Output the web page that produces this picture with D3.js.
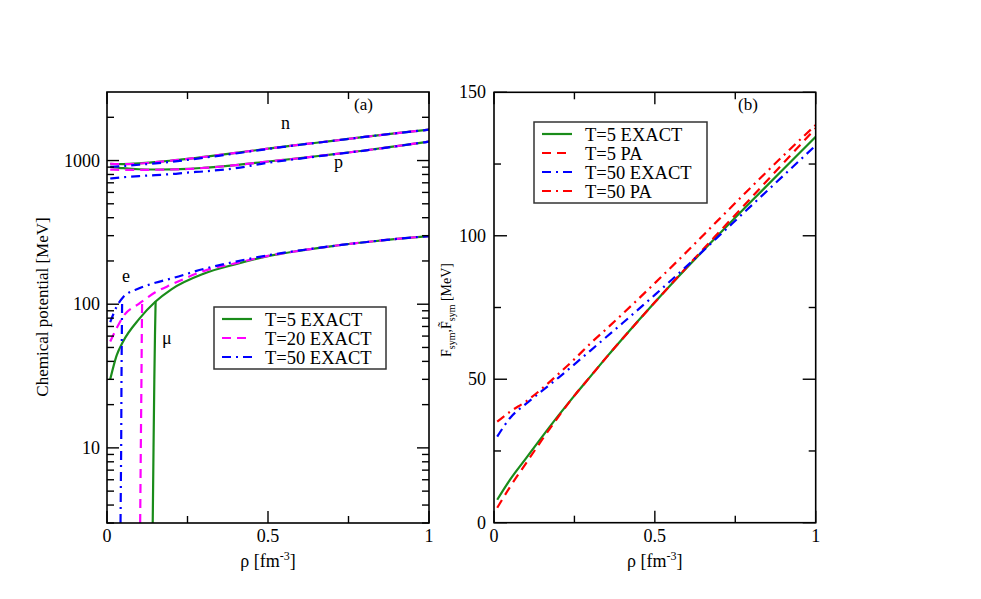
<!DOCTYPE html>
<html>
<head>
<meta charset="utf-8">
<script src="https://cdn.jsdelivr.net/npm/d3@7"></script>
<style>
  body { margin: 0; background: #fff; }
  text { font-family: "Liberation Serif", "Times New Roman", Times, "DejaVu Serif", serif; }
</style>
</head>
<body>
<svg id="chart" width="981" height="599" font-family="Liberation Serif, Times New Roman, DejaVu Serif, serif"></svg>
<script>
// ---- panel (a): chemical potentials, log scale ----
const rhoA = [0.01, 0.05, 0.1, 0.15, 0.2, 0.25, 0.3, 0.4, 0.5, 0.6, 0.7, 0.8, 0.9, 1.0];
const nT5  = [950, 945, 955, 975, 1000, 1027, 1060, 1130, 1210, 1290, 1370, 1460, 1550, 1640];
const nT20 = [950, 943, 953, 974, 999, 1026, 1059, 1130, 1210, 1290, 1370, 1460, 1550, 1640];
const nT50 = [905, 915, 935, 955, 980, 1010, 1045, 1120, 1205, 1288, 1370, 1460, 1550, 1640];
const pT5  = [905, 885, 870, 866, 868, 875, 890, 930, 985, 1040, 1105, 1175, 1260, 1355];
const pT20 = [865, 862, 862, 863, 866, 873, 888, 929, 985, 1040, 1105, 1175, 1260, 1355];
const pT50 = [750, 765, 780, 792, 805, 825, 840, 885, 965, 1032, 1102, 1173, 1258, 1355];

const rhoE = [0.01, 0.03, 0.05, 0.1, 0.15, 0.2, 0.3, 0.4, 0.5, 0.6, 0.7, 0.8, 0.9, 1.0];
const eT5  = [30, 44, 55, 79, 104, 127, 163, 190, 216, 236, 254, 270, 285, 298];
const eT20 = [55, 68, 82, 101, 121, 137, 170, 193, 217, 236, 254, 270, 285, 298];
const eT50 = [75, 96, 112, 129, 141, 151, 176, 198, 219, 237, 254, 270, 285, 298];

// muon branches (threshold onset)
const muRhoT5  = [0.142, 0.1445, 0.147, 0.149, 0.151];
const muT5     = [3, 10, 30, 60, 105];
const muRhoT20 = [0.103, 0.105, 0.107, 0.108, 0.109];
const muT20    = [3, 10, 30, 60, 102];
const muRhoT50 = [0.042, 0.044, 0.045, 0.046, 0.047];
const muT50    = [3, 10, 30, 60, 108];

const legendA = ["T=5 EXACT", "T=20 EXACT", "T=50 EXACT"];
const logTicks = [10, 100, 1000];

// ---- panel (b): symmetry free energy ----
const rhoB = [0.01, 0.05, 0.1, 0.15, 0.2, 0.25, 0.3, 0.35, 0.4, 0.5, 0.6, 0.7, 0.8, 0.9, 1.0];
const fT5exact  = [8, 15, 22.5, 30, 37.3, 44.3, 51, 57.7, 64.2, 76.8, 88.9, 100.6, 112, 123.3, 134.5];
const fT5pa     = [5.2, 12.5, 20.8, 29, 36.9, 44.3, 51, 57.7, 64.2, 76.8, 89.2, 101.3, 113.3, 125.4, 137.5];
const fT50exact = [30, 36.5, 41.5, 46, 50.5, 55.2, 60, 64.8, 69.6, 79.4, 89.5, 100, 110.5, 121, 131.5];
const fT50pa    = [35.2, 38.7, 42.3, 46.8, 51.8, 57, 62.5, 67.6, 72.8, 83.5, 94.5, 105.8, 117, 128, 138.6];
const legendB = ["T=5 EXACT", "T=5 PA", "T=50 EXACT", "T=50 PA"];
const linTicks = [0, 50, 100, 150];

const xTicks = [0, 0.5, 1];
const xMinor = [0.25, 0.75];

// line styles
const GREEN = "#1a8c1a", MAGENTA = "#ff00ff", BLUE = "#0000ff", RED = "#ff0000";
const SOLID = null, DASH = "9,6", DASHDOT = "9,5,2,5";

const svg = d3.select("#chart");
svg.append("rect").attr("width", 981).attr("height", 599).attr("fill", "#fff");

function zip(xs, ys) { return xs.map((x, i) => [x, ys[i]]); }

function drawFrame(g, x, y, w, h) {
    g.append("rect")
        .attr("x", x).attr("y", y).attr("width", w).attr("height", h)
        .attr("fill", "none").attr("stroke", "#000").attr("stroke-width", 1.6);
}

function tick(g, x1, y1, x2, y2) {
    g.append("line")
        .attr("x1", x1).attr("y1", y1).attr("x2", x2).attr("y2", y2)
        .attr("stroke", "#000").attr("stroke-width", 1.4);
}

function drawSeries(g, line, data, color, dash) {
    g.append("path")
        .datum(data)
        .attr("d", line)
        .attr("fill", "none")
        .attr("stroke", color)
        .attr("stroke-width", 2.2)
        .attr("stroke-dasharray", dash);
}

function drawXAxis(g, x, top, bottom) {
    xTicks.forEach(t => {
        tick(g, x(t), bottom, x(t), bottom - 12);
        tick(g, x(t), top, x(t), top + 12);
        g.append("text")
            .attr("x", x(t)).attr("y", bottom + 19)
            .attr("text-anchor", "middle").attr("font-size", 18)
            .text(t);
    });
    xMinor.forEach(t => {
        tick(g, x(t), bottom, x(t), bottom - 7);
        tick(g, x(t), top, x(t), top + 7);
    });
    const lab = g.append("text")
        .attr("x", (x(0) + x(1)) / 2).attr("y", bottom + 44)
        .attr("text-anchor", "middle").attr("font-size", 18);
    lab.append("tspan").text("ρ [fm");
    lab.append("tspan").attr("dy", -7).attr("font-size", 12).text("-3");
    lab.append("tspan").attr("dy", 7).text("]");
}

function drawLegend(g, x0, y0, w, h, labels, styles, rowH) {
    g.append("rect")
        .attr("x", x0).attr("y", y0).attr("width", w).attr("height", h)
        .attr("fill", "#fff").attr("stroke", "#333").attr("stroke-width", 1.5);
    labels.forEach((lab, i) => {
        const yy = y0 + 12 + i * rowH;
        g.append("line")
            .attr("x1", x0 + 8).attr("x2", x0 + 38).attr("y1", yy).attr("y2", yy)
            .attr("stroke", styles[i][0]).attr("stroke-width", 2.2)
            .attr("stroke-dasharray", styles[i][1]);
        g.append("text")
            .attr("x", x0 + 51).attr("y", yy + 6.5)
            .attr("font-size", 18.5)
            .text(lab);
    });
}

// ================= panel (a) =================
const xa = d3.scaleLinear().domain([0, 1]).range([107, 429]);
const ya = d3.scaleLog().domain([3, 3000]).range([523, 92]);
const gA = svg.append("g");

svg.append("clipPath").attr("id", "clipA")
    .append("rect").attr("x", 107).attr("y", 92).attr("width", 322).attr("height", 431);

const lineA = d3.line().x(d => xa(d[0])).y(d => ya(d[1])).curve(d3.curveMonotoneX);
const lineMu = d3.line().x(d => xa(d[0])).y(d => ya(d[1]));
const plotA = gA.append("g").attr("clip-path", "url(#clipA)");

const stylesA = [[GREEN, SOLID], [MAGENTA, DASH], [BLUE, DASHDOT]];
[[nT5, pT5, eT5, muRhoT5, muT5], [nT20, pT20, eT20, muRhoT20, muT20], [nT50, pT50, eT50, muRhoT50, muT50]]
    .forEach((s, i) => {
        const [c, d] = stylesA[i];
        drawSeries(plotA, lineA, zip(rhoA, s[0]), c, d);
        drawSeries(plotA, lineA, zip(rhoA, s[1]), c, d);
        drawSeries(plotA, lineA, zip(rhoE, s[2]), c, d);
        drawSeries(plotA, lineMu, zip(s[3], s[4]), c, d);
    });

drawFrame(gA, 107, 92, 322, 431);

// y ticks, log scale
const minorA = [];
[1, 10, 100, 1000].forEach(dec => d3.range(2, 10).forEach(m => {
    const v = dec * m;
    if (v >= 3 && v < 3000) minorA.push(v);
}));
minorA.forEach(v => {
    tick(gA, 107, ya(v), 114, ya(v));
    tick(gA, 429, ya(v), 422, ya(v));
});
logTicks.forEach(v => {
    tick(gA, 107, ya(v), 119, ya(v));
    tick(gA, 429, ya(v), 417, ya(v));
    gA.append("text")
        .attr("x", 100).attr("y", ya(v) + 6)
        .attr("text-anchor", "end").attr("font-size", 18)
        .text(v);
});
drawXAxis(gA, xa, 92, 523);

gA.append("text")
    .attr("transform", "translate(48,307) rotate(-90)")
    .attr("text-anchor", "middle").attr("font-size", 17)
    .text("Chemical potential [MeV]");

gA.append("text").attr("x", 354).attr("y", 110).attr("font-size", 17).text("(a)");
gA.append("text").attr("x", 281).attr("y", 129).attr("font-size", 18).text("n");
gA.append("text").attr("x", 334).attr("y", 168).attr("font-size", 18).text("p");
gA.append("text").attr("x", 122).attr("y", 282).attr("font-size", 18).text("e");
gA.append("text").attr("x", 162).attr("y", 344).attr("font-size", 18).text("μ");

drawLegend(gA, 214, 307, 172, 62, legendA, stylesA, 19);

// ================= panel (b) =================
const xb = d3.scaleLinear().domain([0, 1]).range([494, 815.7]);
const yb = d3.scaleLinear().domain([0, 150]).range([522.7, 92.3]);
const gB = svg.append("g");

svg.append("clipPath").attr("id", "clipB")
    .append("rect").attr("x", 494).attr("y", 92.3).attr("width", 321.7).attr("height", 430.4);

const lineB = d3.line().x(d => xb(d[0])).y(d => yb(d[1])).curve(d3.curveMonotoneX);
const plotB = gB.append("g").attr("clip-path", "url(#clipB)");
const stylesB = [[GREEN, SOLID], [RED, DASH], [BLUE, DASHDOT], [RED, DASHDOT]];
[fT5exact, fT5pa, fT50exact, fT50pa].forEach((s, i) => {
    drawSeries(plotB, lineB, zip(rhoB, s), stylesB[i][0], stylesB[i][1]);
});

drawFrame(gB, 494, 92.3, 321.7, 430.4);

[25, 75, 125].forEach(v => {
    tick(gB, 494, yb(v), 501, yb(v));
    tick(gB, 815.7, yb(v), 808.7, yb(v));
});
linTicks.forEach(v => {
    tick(gB, 494, yb(v), 507, yb(v));
    tick(gB, 815.7, yb(v), 802.7, yb(v));
    gB.append("text")
        .attr("x", 486).attr("y", yb(v) + 6)
        .attr("text-anchor", "end").attr("font-size", 18)
        .text(v);
});
drawXAxis(gB, xb, 92.3, 522.7);

const ylabB = gB.append("text")
    .attr("transform", "translate(451,310) rotate(-90)")
    .attr("text-anchor", "middle").attr("font-size", 14);
ylabB.append("tspan").text("F");
ylabB.append("tspan").attr("dy", 4).attr("font-size", 10).text("sym");
ylabB.append("tspan").attr("dy", -4).text(",F\u0303");
ylabB.append("tspan").attr("dy", 4).attr("font-size", 10).text("sym");
ylabB.append("tspan").attr("dy", -4).text(" [MeV]");

gB.append("text").attr("x", 738).attr("y", 110).attr("font-size", 17).text("(b)");

drawLegend(gB, 534, 122, 173, 81, legendB, stylesB, 19);
</script>
</body>
</html>
